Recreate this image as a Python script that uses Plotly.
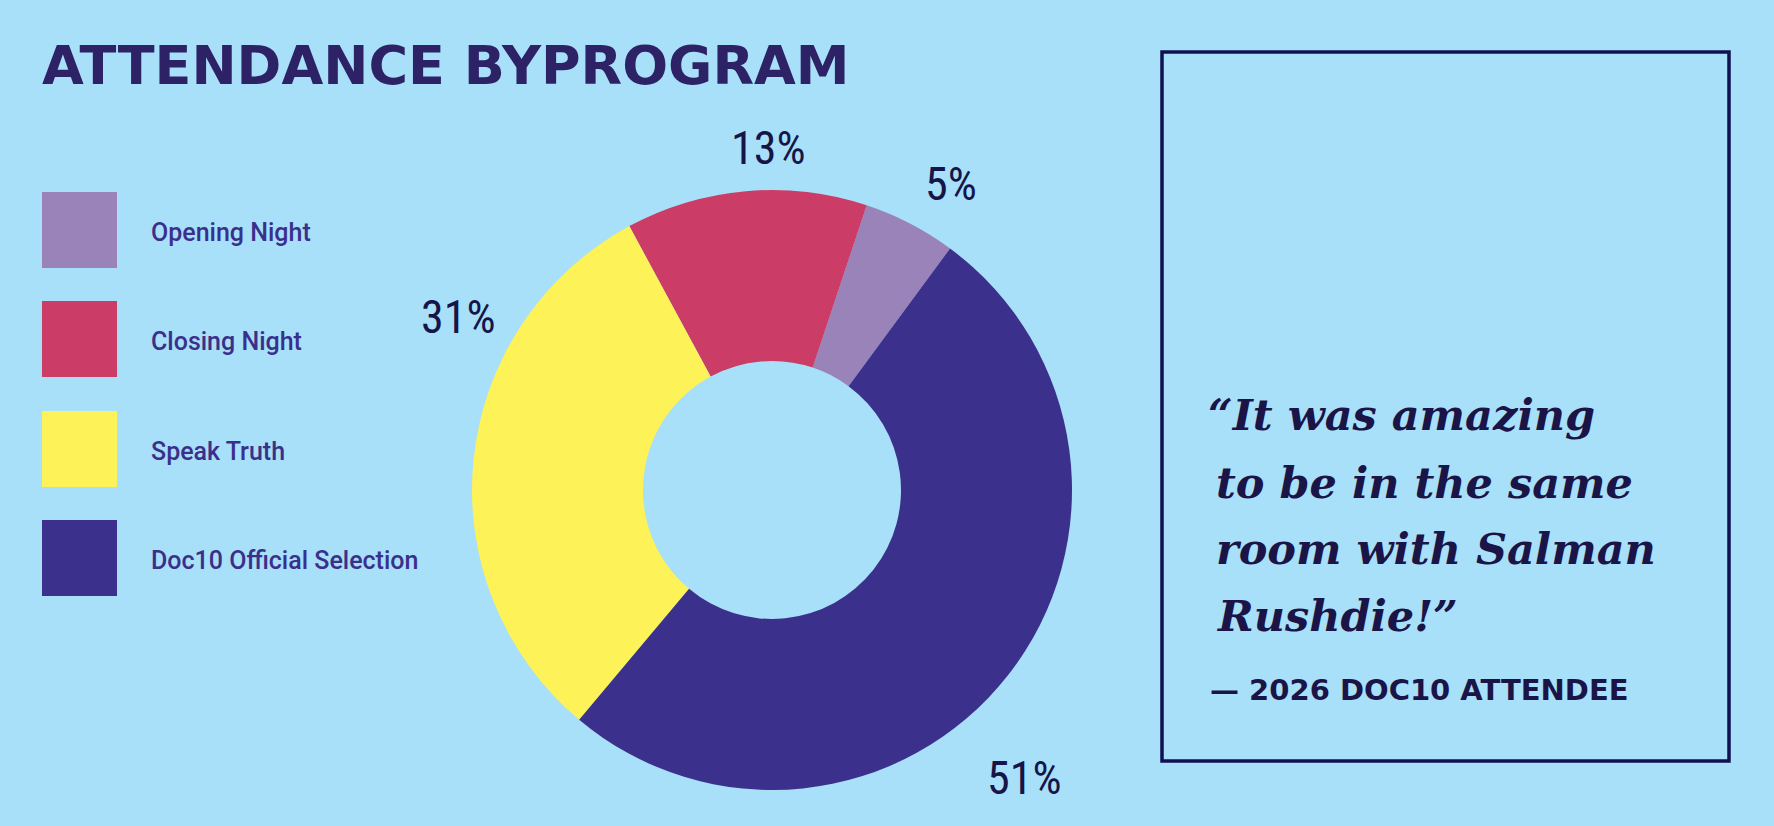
import plotly.graph_objects as go

W, H = 1774, 826

programs = ["Opening Night", "Closing Night", "Speak Truth", "Doc10 Official Selection"]
shares = [5, 13, 31, 51]
colors = ["#9983b8", "#cb3c66", "#fdf257", "#3b318c"]

quote_lines = ["\u201cIt was amazing", "to be in the same", "room with Salman", "Rushdie!\u201d"]
attribution = "\u2014 2026 DOC10 ATTENDEE"

BG = "#a8dff9"
NAVY = "#15154a"


def px_x(x):
    return x / W


def px_y(y):
    return (H - y) / H


# donut: centre (772, 490), radius 300 in pixels
cx, cy, r = 772, 490, 300

fig = go.Figure()
fig.add_trace(go.Pie(
    labels=programs,
    values=shares,
    marker=dict(colors=colors, line=dict(width=0)),
    hole=0.43,
    sort=False,
    direction="counterclockwise",
    rotation=18.4,
    textinfo="none",
    hoverinfo="label+percent",
    showlegend=False,
    domain=dict(x=[px_x(cx - r), px_x(cx + r)], y=[px_y(cy + r), px_y(cy - r)]),
))

annotations = []
shapes = []

# percentage labels around the ring
label_pos = [(951, 184), (768, 148), (458, 317), (1024, 778)]
for v, (lx, ly) in zip(shares, label_pos):
    annotations.append(dict(
        x=px_x(lx), y=px_y(ly), xref="paper", yref="paper",
        text=f"{v}%", showarrow=False, xanchor="center", yanchor="middle",
        font=dict(family="Liberation Sans Narrow, Roboto Condensed, Roboto", size=46, color=NAVY),
    ))

# hand-made legend with big square swatches
sw_tops = [192, 301, 411, 520]
for name, col, top in zip(programs, colors, sw_tops):
    shapes.append(dict(
        type="rect", xref="paper", yref="paper",
        x0=px_x(42), x1=px_x(117), y0=px_y(top + 76), y1=px_y(top),
        fillcolor=col, line=dict(width=0), layer="above",
    ))
    annotations.append(dict(
        x=px_x(149), y=px_y(top + 40), xref="paper", yref="paper",
        text=name, showarrow=False, xanchor="left", yanchor="middle",
        font=dict(family="Roboto", size=25, color="#3b2f8c", weight=500),
    ))

# title
annotations.append(dict(
    x=px_x(40), y=px_y(65), xref="paper", yref="paper",
    text="ATTENDANCE BYPROGRAM", showarrow=False, xanchor="left", yanchor="middle",
    font=dict(family="DejaVu Sans", size=54, color="#2d2266", weight="bold"),
))

# quote box
shapes.append(dict(
    type="rect", xref="paper", yref="paper",
    x0=px_x(1162), x1=px_x(1729), y0=px_y(761), y1=px_y(52),
    line=dict(color="#0f1250", width=3.5), fillcolor="rgba(0,0,0,0)",
))

baselines = [429, 497, 563, 630]
for i, (line, base) in enumerate(zip(quote_lines, baselines)):
    annotations.append(dict(
        x=px_x(1206 if i == 0 else 1214), y=px_y(base - 14), xref="paper", yref="paper",
        text=line, showarrow=False, xanchor="left", yanchor="middle",
        font=dict(family="DejaVu Serif", size=43, color="#1b1446", style="italic", weight="bold"),
    ))

annotations.append(dict(
    x=px_x(1208), y=px_y(690), xref="paper", yref="paper",
    text=attribution, showarrow=False, xanchor="left", yanchor="middle",
    font=dict(family="DejaVu Sans", size=29, color="#1b1446", weight="bold"),
))

fig.update_layout(
    width=W, height=H,
    margin=dict(l=0, r=0, t=0, b=0),
    paper_bgcolor=BG,
    plot_bgcolor=BG,
    annotations=annotations,
    shapes=shapes,
)

fig.write_html(
    "out.html",
    config={"displayModeBar": False},
    post_script="document.body.style.margin='0';document.body.style.background='%s';" % BG,
)
